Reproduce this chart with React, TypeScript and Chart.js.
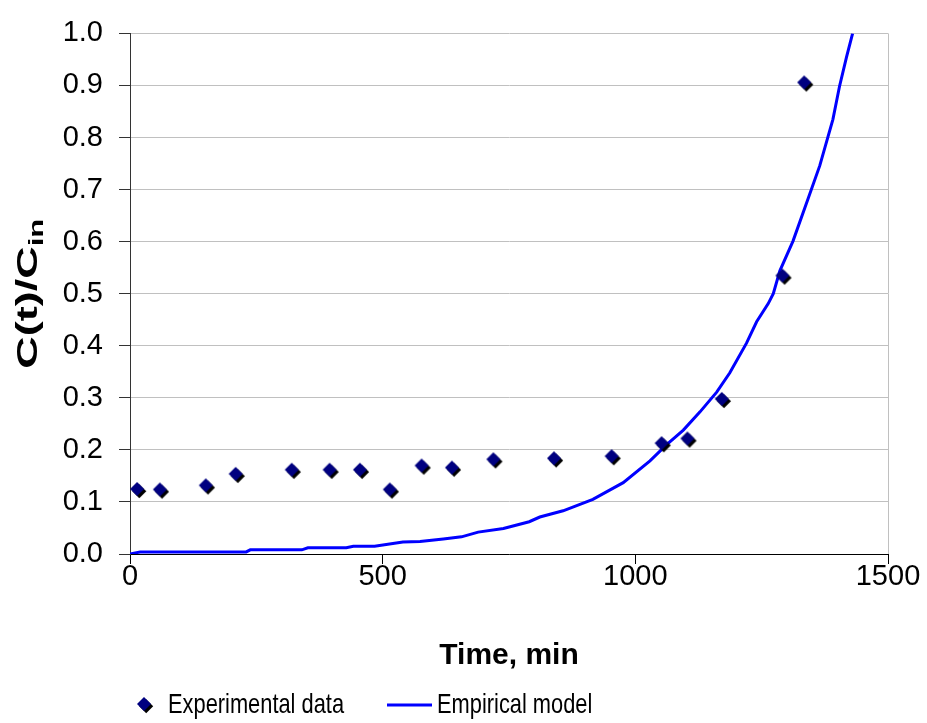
import React, { useEffect, useRef } from "react";
import { Chart, registerables } from "chart.js";

Chart.register(...registerables);

// Experimental data (time, min ; C(t)/Cin)
const expTime = [16, 61, 152, 211, 322, 397, 457, 516, 579, 639, 721, 841, 955, 1054, 1105, 1173, 1293, 1336];
const expConc = [0.123, 0.122, 0.13, 0.152, 0.16, 0.16, 0.16, 0.122, 0.168, 0.164, 0.18, 0.182, 0.186, 0.211, 0.22, 0.296, 0.533, 0.904];

// Empirical model curve
const modelTime = [0, 20, 230, 238, 340, 352, 428, 442, 484, 540, 574, 620, 656, 689, 739, 790, 811, 857, 916, 976, 1029, 1062, 1095, 1128, 1161, 1187, 1220, 1240, 1263, 1273, 1286, 1312, 1342, 1365, 1391, 1404, 1418, 1430];
const modelConc = [0, 0.004, 0.004, 0.008, 0.008, 0.012, 0.012, 0.015, 0.015, 0.023, 0.024, 0.029, 0.033, 0.042, 0.049, 0.062, 0.071, 0.083, 0.105, 0.137, 0.179, 0.21, 0.238, 0.273, 0.311, 0.348, 0.405, 0.446, 0.481, 0.5, 0.544, 0.601, 0.683, 0.746, 0.835, 0.898, 0.955, 1.0];

const xTicks = [0, 500, 1000, 1500];
const seriesNames = ["Experimental data", "Empirical model"];
const xTitle = "Time, min";
const yTitleMain = "C(t)/C";
const yTitleSub = "in";

const FONT = "'Liberation Sans', Arial, sans-serif";

function makeDiamond(): HTMLCanvasElement {
  const c = document.createElement("canvas");
  c.width = 20;
  c.height = 20;
  const g = c.getContext("2d")!;
  const d = (cx: number, cy: number, h: number, col: string) => {
    g.beginPath();
    g.moveTo(cx, cy - h);
    g.lineTo(cx + h, cy);
    g.lineTo(cx, cy + h);
    g.lineTo(cx - h, cy);
    g.closePath();
    g.fillStyle = col;
    g.fill();
  };
  d(11.2, 11.2, 7, "#000000");
  d(9, 9, 7, "#000080");
  return c;
}

export default function App() {
  const ref = useRef<HTMLCanvasElement>(null);
  useEffect(() => {
    const diamond = makeDiamond();
    const decor = {
      id: "decor",
      afterDraw(chart: any) {
        const { ctx, chartArea } = chart;
        ctx.save();
        // right border
        ctx.strokeStyle = "#c0c0c0";
        ctx.lineWidth = 1;
        ctx.beginPath();
        ctx.moveTo(chartArea.right + 0.5, chartArea.top);
        ctx.lineTo(chartArea.right + 0.5, chartArea.bottom);
        ctx.stroke();

        // x title
        ctx.fillStyle = "#000";
        ctx.font = `bold 30px ${FONT}`;
        ctx.textAlign = "center";
        ctx.textBaseline = "middle";
        ctx.fillText(xTitle, (chartArea.left + chartArea.right) / 2, 656);

        // y title with subscript (stretched along its length)
        const mainFont = `bold 29px ${FONT}`;
        const subFont = `bold 20px ${FONT}`;
        ctx.font = mainFont;
        const w1 = ctx.measureText(yTitleMain).width;
        ctx.font = subFont;
        const w2 = ctx.measureText(yTitleSub).width;
        const total = w1 + w2;
        const targetLen = 150;
        const sx = targetLen / total;
        ctx.translate(27, (chartArea.top + chartArea.bottom) / 2);
        ctx.rotate(-Math.PI / 2);
        ctx.scale(sx, 1);
        ctx.textAlign = "left";
        ctx.textBaseline = "alphabetic";
        ctx.font = mainFont;
        ctx.fillText(yTitleMain, -total / 2, 10);
        ctx.font = subFont;
        ctx.fillText(yTitleSub, -total / 2 + w1, 16);
        ctx.restore();

        // legend (condensed text)
        ctx.save();
        const ly = 705;
        ctx.drawImage(diamond, 145 - 10, ly - 10);
        ctx.fillStyle = "#000";
        ctx.textAlign = "left";
        ctx.textBaseline = "middle";
        ctx.strokeStyle = "#0000ff";
        ctx.lineWidth = 3;
        ctx.beginPath();
        ctx.moveTo(387, ly);
        ctx.lineTo(432, ly);
        ctx.stroke();
        ctx.font = `28px ${FONT}`;
        ctx.save();
        ctx.translate(168, ly);
        ctx.scale(0.78, 1);
        ctx.fillText(seriesNames[0], 0, 0);
        ctx.restore();
        ctx.save();
        ctx.translate(437, ly);
        ctx.scale(0.78, 1);
        ctx.fillText(seriesNames[1], 0, 0);
        ctx.restore();
        ctx.restore();
      },
    };

    const chart = new Chart(ref.current!, {
      type: "scatter",
      data: {
        datasets: [
          {
            label: seriesNames[0],
            data: expTime.map((x, i) => ({ x, y: expConc[i] })),
            pointStyle: diamond as any,
            pointRadius: 8,
            showLine: false,
            order: 1,
          },
          {
            label: seriesNames[1],
            data: modelTime.map((x, i) => ({ x, y: modelConc[i] })),
            showLine: true,
            borderColor: "#0000ff",
            borderWidth: 3,
            pointRadius: 0,
            tension: 0,
            order: 2,
          },
        ],
      },
      options: {
        responsive: false,
        animation: false,
        layout: { padding: { left: 0, top: 26, right: 39, bottom: 0 } },
        plugins: {
          legend: { display: false },
          tooltip: { enabled: false },
        },
        scales: {
          x: {
            type: "linear",
            min: 0,
            max: 1500,
            afterBuildTicks: (s: any) => {
              s.ticks = xTicks.map((v) => ({ value: v }));
            },
            afterFit: (s: any) => {
              s.height = 169;
            },
            ticks: {
              color: "#000",
              font: { family: FONT, size: 29, lineHeight: 1 },
              padding: -2,
              maxRotation: 0,
              callback: (v: any) => String(v),
            },
            grid: {
              drawOnChartArea: false,
              drawTicks: true,
              tickLength: 10,
              tickColor: "#000",
            },
            border: { display: true, color: "#000", width: 1 },
          },
          y: {
            type: "linear",
            min: 0,
            max: 1,
            afterFit: (s: any) => {
              s.width = 130;
            },
            ticks: {
              stepSize: 0.1,
              color: "#000",
              font: { family: FONT, size: 29 },
              padding: 16,
              callback: (v: any) => Number(v).toFixed(1),
            },
            grid: {
              color: "#c0c0c0",
              lineWidth: 1,
              drawTicks: true,
              tickLength: 11,
              tickColor: "#333",
            },
            border: { display: true, color: "#333", width: 1 },
          },
        },
      },
      plugins: [decor],
    });
    return () => chart.destroy();
  }, []);

  return (
    <div style={{ position: "absolute", left: 0, top: 0, width: 927, height: 723, background: "#fff" }}>
      <canvas ref={ref} width={927} height={723} />
    </div>
  );
}
